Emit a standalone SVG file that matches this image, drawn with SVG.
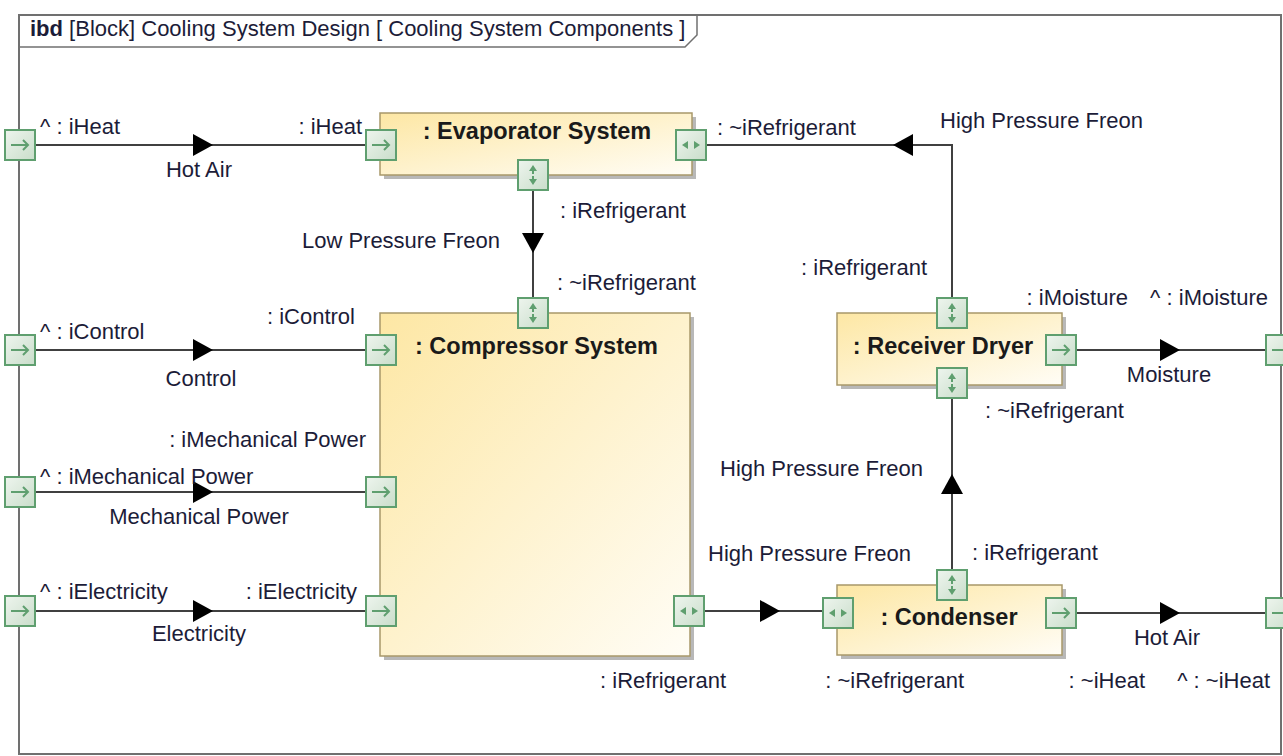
<svg xmlns="http://www.w3.org/2000/svg" xmlns:xlink="http://www.w3.org/1999/xlink" width="1283" height="756" viewBox="0 0 1283 756">
<style>
text{font-family:"Liberation Sans",Arial,sans-serif;font-size:22px;fill:#1c1c38}
.t{font-weight:bold;font-size:23.5px;fill:#1a1a1a}
.e{text-anchor:end}
.m{text-anchor:middle}
.blk{fill:url(#bg);stroke:#a8986a;stroke-width:1.5}
.sh{fill:#b8b8b8}
.prt{fill:url(#pg);stroke:#5f9f6f;stroke-width:2}
.pa{fill:none;stroke:#5f9f6f;stroke-width:2}
.pf{fill:#5f9f6f}
.c{fill:none;stroke:#404040;stroke-width:2}
.ah{fill:#000}
</style>
<defs>
<linearGradient id="bg" x1="0" y1="0" x2="1" y2="1">
<stop offset="0" stop-color="#fde7a4"/>
<stop offset="1" stop-color="#fffdf6"/>
</linearGradient>
<linearGradient id="pg" x1="0" y1="0" x2="1" y2="1">
<stop offset="0" stop-color="#eef5ee"/>
<stop offset="1" stop-color="#c9ddca"/>
</linearGradient>
<g id="pIn"><rect class="prt" x="-15" y="-15" width="30" height="30"/><path class="pa" d="M-9,0 H8 M3,-5 L8,0 L3,5"/></g>
<g id="pH"><rect class="prt" x="-15" y="-15" width="30" height="30"/><path class="pf" d="M-9,0 L-3,-4 L-3,4 Z M9,0 L3,-4 L3,4 Z"/></g>
<g id="pV"><rect class="prt" x="-15" y="-15" width="30" height="30"/><path class="pf" d="M0,-10 L-4,-4 L4,-4 Z M0,10 L-4,4 L4,4 Z"/><path class="pa" d="M0,-5 V-1 M0,1 V5" stroke-width="1.5"/></g>
<path id="ah" d="M-10,-11 L10,0 L-10,11 Z"/>
</defs>
<rect width="1283" height="756" fill="#fff"/>
<g id="frame">
<rect x="19" y="15" width="1262" height="739" fill="none" stroke="#707070" stroke-width="2"/>
<path d="M19,47 H685 L697,35 V15" fill="none" stroke="#707070" stroke-width="1.5"/>
<text x="30" y="36"><tspan font-weight="bold">ibd</tspan> [Block] Cooling System Design [ Cooling System Components ]</text>
</g>
<g id="connectors">
<path class="c" d="M35,145 H366"/>
<use href="#ah" class="ah" transform="translate(203,145)"/>
<path class="c" d="M533,190 V298"/>
<use href="#ah" class="ah" transform="translate(533,243) rotate(90)"/>
<path class="c" d="M35,350 H366"/>
<use href="#ah" class="ah" transform="translate(203,350)"/>
<path class="c" d="M35,492 H366"/>
<use href="#ah" class="ah" transform="translate(203,492)"/>
<path class="c" d="M35,611 H366"/>
<use href="#ah" class="ah" transform="translate(203,611)"/>
<path class="c" d="M704,611 H823"/>
<use href="#ah" class="ah" transform="translate(770,611)"/>
<path class="c" d="M952,570 V398"/>
<use href="#ah" class="ah" transform="translate(952,484) rotate(-90)"/>
<path class="c" d="M952,298 V145 H706"/>
<use href="#ah" class="ah" transform="translate(903,145) rotate(180)"/>
<path class="c" d="M1076,350 H1266"/>
<use href="#ah" class="ah" transform="translate(1170,350)"/>
<path class="c" d="M1076,613 H1266"/>
<use href="#ah" class="ah" transform="translate(1170,613)"/>
<text x="199" y="177" class="m">Hot Air</text>
<text x="500" y="248" class="e">Low Pressure Freon</text>
<text x="201" y="386" class="m">Control</text>
<text x="199" y="524" class="m">Mechanical Power</text>
<text x="199" y="641" class="m">Electricity</text>
<text x="708" y="561">High Pressure Freon</text>
<text x="923" y="476" class="e">High Pressure Freon</text>
<text x="940" y="128">High Pressure Freon</text>
<text x="1169" y="382" class="m">Moisture</text>
<text x="1167" y="645" class="m">Hot Air</text>
</g>
<g id="boundary">
<use href="#pIn" transform="translate(20,145)"/>
<use href="#pIn" transform="translate(20,350)"/>
<use href="#pIn" transform="translate(20,492)"/>
<use href="#pIn" transform="translate(20,611)"/>
<use href="#pIn" transform="translate(1281,350)"/>
<use href="#pIn" transform="translate(1281,613)"/>
<text x="40" y="134">^ : iHeat</text>
<text x="40" y="339">^ : iControl</text>
<text x="40" y="484">^ : iMechanical Power</text>
<text x="40" y="599">^ : iElectricity</text>
<text x="1268" y="305" class="e">^ : iMoisture</text>
<text x="1270" y="688" class="e">^ : ~iHeat</text>
</g>
<g id="evaporator">
<rect class="sh" x="384" y="117" width="312" height="62"/>
<rect class="blk" x="380" y="113" width="312" height="62"/>
<text x="537" y="139" class="t m">: Evaporator System</text>
<use href="#pIn" transform="translate(381,145)"/>
<use href="#pH" transform="translate(691,145)"/>
<use href="#pV" transform="translate(533,175)"/>
<text x="362" y="134" class="e">: iHeat</text>
<text x="717" y="135">: ~iRefrigerant</text>
<text x="560" y="218">: iRefrigerant</text>
</g>
<g id="compressor">
<rect class="sh" x="384" y="317" width="310" height="343"/>
<rect class="blk" x="380" y="313" width="310" height="343"/>
<text x="415" y="354" class="t">: Compressor System</text>
<use href="#pV" transform="translate(533,313)"/>
<use href="#pIn" transform="translate(381,350)"/>
<use href="#pIn" transform="translate(381,492)"/>
<use href="#pIn" transform="translate(381,611)"/>
<use href="#pH" transform="translate(689,611)"/>
<text x="557" y="290">: ~iRefrigerant</text>
<text x="355" y="324" class="e">: iControl</text>
<text x="366" y="447" class="e">: iMechanical Power</text>
<text x="357" y="599" class="e">: iElectricity</text>
<text x="726" y="688" class="e">: iRefrigerant</text>
</g>
<g id="receiver">
<rect class="sh" x="841" y="317" width="225" height="72"/>
<rect class="blk" x="837" y="313" width="225" height="72"/>
<text x="943" y="354" class="t m">: Receiver Dryer</text>
<use href="#pV" transform="translate(952,313)"/>
<use href="#pV" transform="translate(952,383)"/>
<use href="#pIn" transform="translate(1061,350)"/>
<text x="927" y="275" class="e">: iRefrigerant</text>
<text x="1128" y="305" class="e">: iMoisture</text>
<text x="985" y="418">: ~iRefrigerant</text>
</g>
<g id="condenser">
<rect class="sh" x="841" y="589" width="225" height="70"/>
<rect class="blk" x="837" y="585" width="225" height="70"/>
<text x="949" y="625" class="t m">: Condenser</text>
<use href="#pH" transform="translate(838,613)"/>
<use href="#pV" transform="translate(952,585)"/>
<use href="#pIn" transform="translate(1061,613)"/>
<text x="972" y="560">: iRefrigerant</text>
<text x="964" y="688" class="e">: ~iRefrigerant</text>
<text x="1145" y="688" class="e">: ~iHeat</text>
</g>
</svg>
